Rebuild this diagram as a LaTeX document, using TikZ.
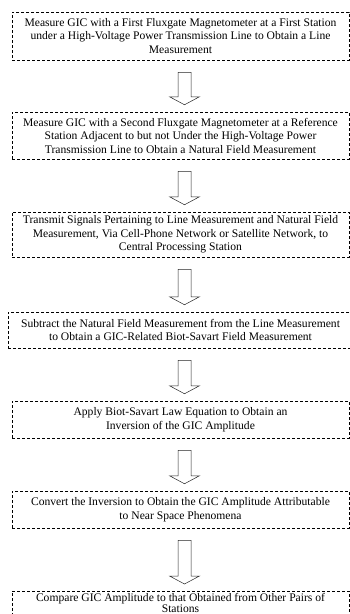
\documentclass[tikz,border=0pt]{standalone}
\usepackage{fontspec}
\setmainfont{Liberation Serif}
\usetikzlibrary{calc}

\begin{document}
\begin{tikzpicture}[x=1pt, y=1pt,
  box/.style={draw, densely dashed, line width=0.5pt, minimum width=337pt, inner xsep=2pt, align=center, font=\fontsize{11.6}{13.5}\selectfont},
  blk/.style={draw, line width=0.5pt, black!85}]
  \useasboundingbox (0,0) rectangle (350,-614);

  % Steps
  \node[box, minimum height=48pt] (s1) at (180.5,-36) {Measure GIC with a First Fluxgate Magnetometer at a First Station\\under a High-Voltage Power Transmission Line to Obtain a Line\\Measurement};
  \node[box, minimum height=47pt] (s2) at (180.5,-135.5) {Measure GIC with a Second Fluxgate Magnetometer at a Reference\\Station Adjacent to but not Under the High-Voltage Power\\Transmission Line to Obtain a Natural Field Measurement};
  \node[box, minimum height=45pt] (s3) at (180.5,-234.5) {Transmit Signals Pertaining to Line Measurement and Natural Field\\Measurement, Via Cell-Phone Network or Satellite Network, to\\Central Processing Station};
  \node[box, minimum height=36pt, minimum width=345pt] (s4) at (180.5,-330) {Subtract the Natural Field Measurement from the Line Measurement\\to Obtain a GIC-Related Biot-Savart Field Measurement};
  \node[box, minimum height=37pt] (s5) at (180.5,-419.5) {Apply Biot-Savart Law Equation to Obtain an\\Inversion of the GIC Amplitude};
  \node[box, minimum height=37pt] (s6) at (180.5,-509.5) {Convert the Inversion to Obtain the GIC Amplitude Attributable\\to Near Space Phenomena};
  \node[box, anchor=north, inner ysep=2pt, font=\fontsize{11.6}{11.5}\selectfont] (s7) at (180.5,-591) {Compare GIC Amplitude to that Obtained from Other Pairs of\\Stations};

  % Block arrows
  \foreach \a/\b in {s1/s2, s2/s3, s3/s4, s4/s5, s5/s6, s6/s7}
    \draw[blk] let \p1=($(\a.south)+(4,-12)$), \p2=($(\b.north)+(4,7)$) in
      (\x1-6.5pt,\y1) -- (\x1+6.5pt,\y1) -- (\x1+6.5pt,\y2+8pt) -- (\x1+15pt,\y2+8pt)
      -- (\x1,\y2) -- (\x1-15pt,\y2+8pt) -- (\x1-6.5pt,\y2+8pt) -- cycle;
\end{tikzpicture}
\end{document}
